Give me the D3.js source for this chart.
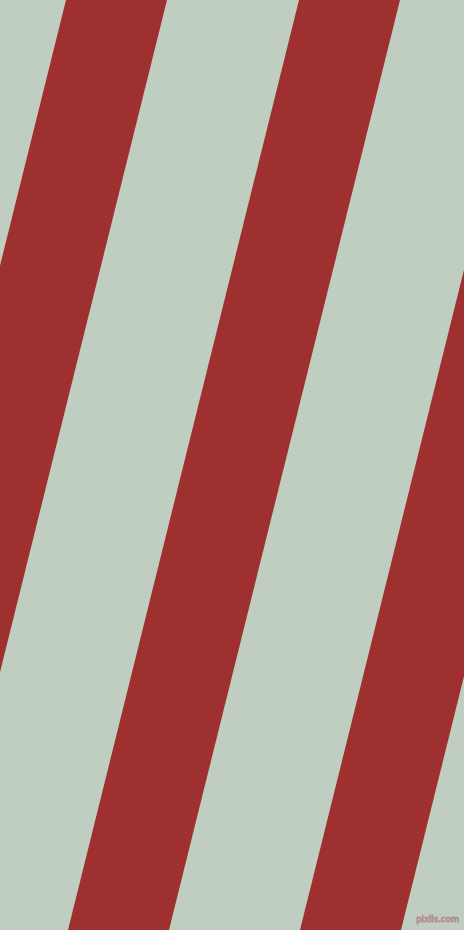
<!DOCTYPE html>
<html>
<head>
<meta charset="utf-8">
<script src="https://cdn.jsdelivr.net/npm/d3@7"></script>
<style>
html,body{margin:0;padding:0;background:#c0cec2;overflow:hidden;}
svg{display:block;}
</style>
</head>
<body>
<script>
// Stripe data: left edge of each red band at the top (px in picture units)
const stripeTopStarts = [-166, 66, 299, 531];
const stripeBandWidth = [101, 101, 101, 101];
const stripeDrift = 231;            // horizontal drift from top to bottom
const colors = { background: "#c0cec2", stripe: "#9e3030" };
const watermark = "pixlis.com";

const W = 464, H = 930;
const svg = d3.select("body").append("svg").attr("width", W).attr("height", H);

const x = d3.scaleLinear().domain([0, W]).range([0, W]);
const y = d3.scaleLinear().domain([0, 1]).range([0, H]);

svg.append("rect").attr("width", W).attr("height", H).attr("fill", colors.background);

const line = d3.line().x(d => x(d[0])).y(d => y(d[1]));

svg.selectAll("path.stripe")
  .data(stripeTopStarts.map((s, i) => ({ s, w: stripeBandWidth[i] })))
  .join("path")
  .attr("class", "stripe")
  .attr("fill", colors.stripe)
  .attr("d", d => line([
    [d.s, 0], [d.s + d.w, 0],
    [d.s + d.w - stripeDrift, 1], [d.s - stripeDrift, 1]
  ]) + "Z");

svg.append("text")
  .attr("x", 459).attr("y", 922)
  .attr("text-anchor", "end")
  .attr("font-family", "DejaVu Sans, sans-serif")
  .attr("font-size", 8.5)
  .attr("fill", "#c9c9c6")
  .attr("stroke", "#b08f90")
  .attr("stroke-width", 0.9)
  .text(watermark);
</script>
</body>
</html>
